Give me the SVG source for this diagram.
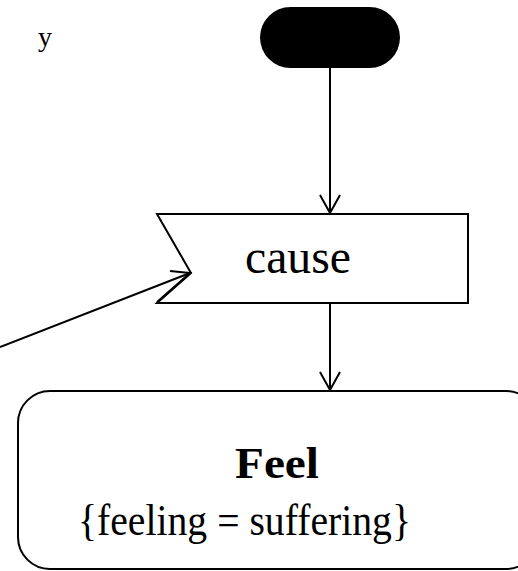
<svg xmlns="http://www.w3.org/2000/svg" width="518" height="571" viewBox="0 0 518 571">
<style>
.t{font-family:"Liberation Serif",serif;fill:#000}
.ln{stroke:#000;stroke-width:2;fill:none}
</style>
<rect width="518" height="571" fill="#fff"/>
<text class="t" x="38" y="46" font-size="28">y</text>
<g id="start"><rect x="260" y="7" width="140" height="61" rx="30.5" fill="#000"/></g>
<g id="cause"><path class="ln" d="M157,214 L468,214 L468,303 L157,303 L191,273 Z" stroke-linejoin="miter"/><text class="t" x="245" y="273" font-size="48" textLength="106" lengthAdjust="spacingAndGlyphs">cause</text></g>
<g id="feel"><rect class="ln" x="18" y="391" width="520" height="178" rx="32"/><text class="t" x="235" y="478" font-size="44" font-weight="bold" textLength="84" lengthAdjust="spacingAndGlyphs">Feel</text><text class="t" x="78" y="535" font-size="44" textLength="333" lengthAdjust="spacingAndGlyphs">{feeling = suffering}</text></g>
<g id="connectors">
<path class="ln" d="M330,68 L330,213"/><path class="ln" d="M320,195 L330,213 L340,195"/>
<path class="ln" d="M330,303 L330,390"/><path class="ln" d="M320,372 L330,390 L340,372"/>
<path class="ln" d="M0,347 L190,273"/><path class="ln" d="M170,271 L190,273 L157,302"/>
</g>
</svg>
